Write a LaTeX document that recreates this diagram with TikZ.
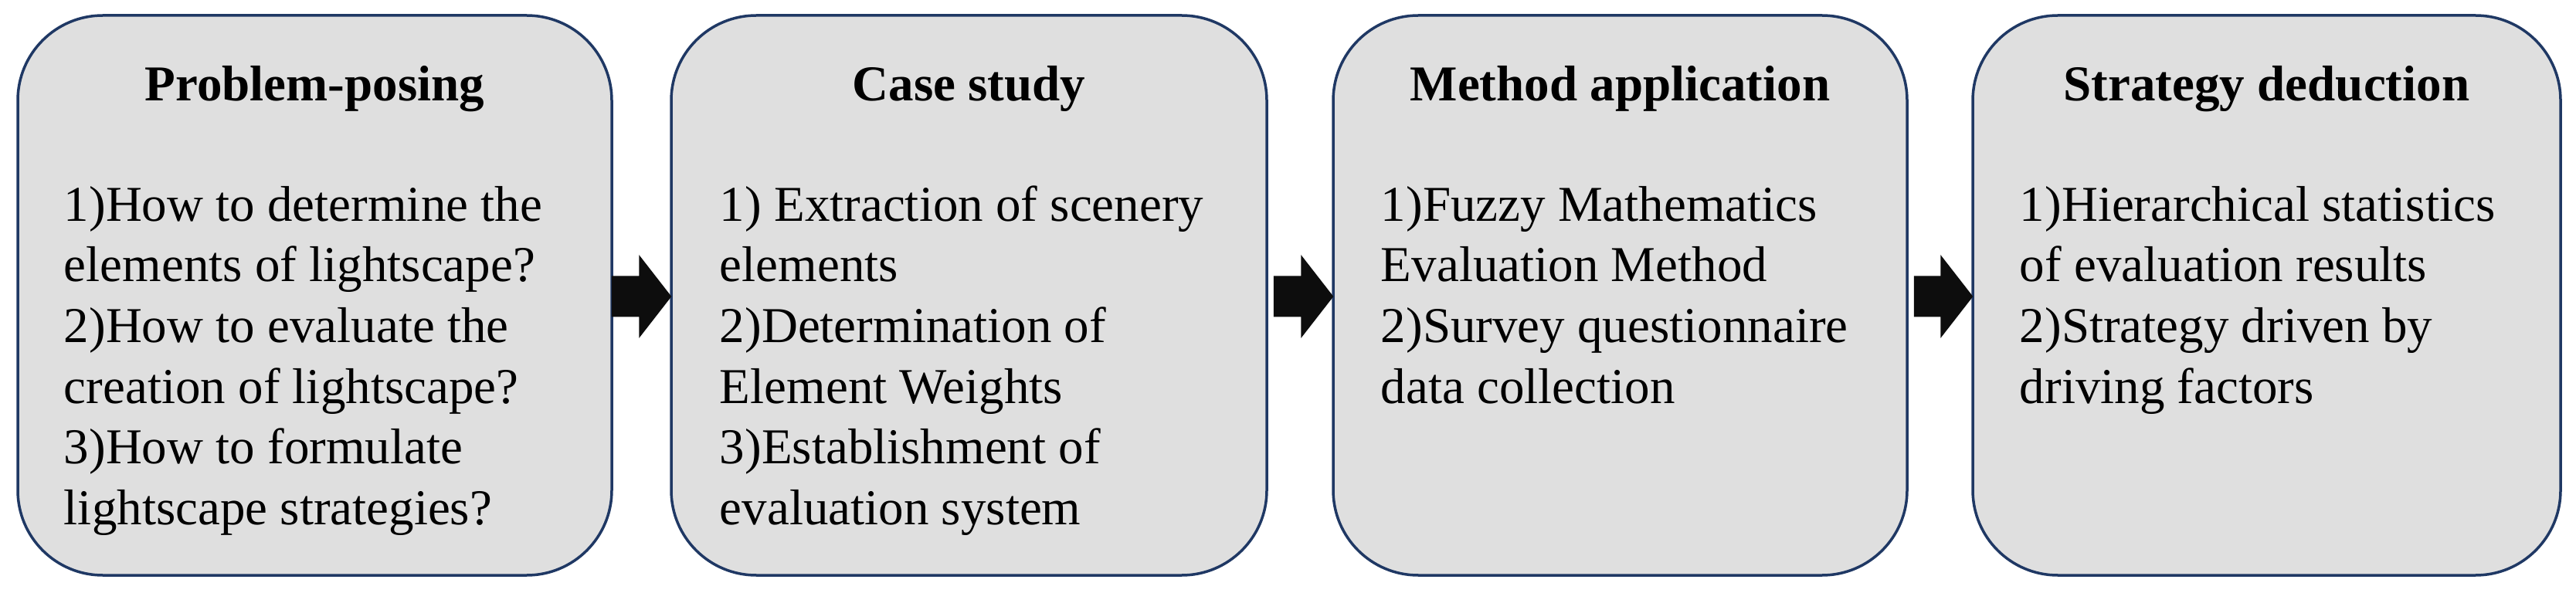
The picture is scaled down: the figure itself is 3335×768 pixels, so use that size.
\documentclass[tikz,border=0pt]{standalone}
\usepackage{fontspec}
\setmainfont{Liberation Serif}
\usetikzlibrary{calc}
\definecolor{boxfill}{HTML}{DFDFDF}
\definecolor{boxline}{HTML}{1F3864}
\definecolor{arrowcol}{HTML}{0D0D0D}
\tikzset{
  stagebox/.style={draw=boxline, fill=boxfill, line width=1.05pt, rounded corners=33pt,
    minimum height=217.5pt, inner sep=0pt, shape=rectangle},
  stagetitle/.style={anchor=base, inner sep=0pt, font=\fontsize{19.5}{23.6}\selectfont\bfseries},
  stagebody/.style={anchor=base west, inner sep=0pt, font=\fontsize{19.5}{23.6}\selectfont},
  arrowfill/.style={fill=arrowcol}
}
\newcommand\lineset[1]{\vtop{\baselineskip=23.6pt #1}}
\newcommand\flowarrow[3]{%
  \fill[arrowfill] ($(#1.east)+(#3,-25)$) -- ($(#2.west)+(-40,-25)$) -- ($(#2.west)+(-40,-52.5)$)
    -- ($(#2.west)+(2,1.5)$) -- ($(#2.west)+(-40,55.5)$) -- ($(#2.west)+(-40,28)$)
    -- ($(#1.east)+(#3,28)$) -- cycle;}
\begin{document}
\begin{tikzpicture}[x=0.3pt,y=-0.3pt]
\useasboundingbox (0,0) rectangle (3335,768);
\node[stagebox, minimum width=230.7pt] (b1) at (407.5,382.5) {};
\node[stagebox, minimum width=231.3pt] (b2) at (1254.5,382.5) {};
\node[stagebox, minimum width=222.9pt] (b3) at (2097.5,382.5) {};
\node[stagebox, minimum width=228.3pt] (b4) at (2934.5,382.5) {};

\node[stagetitle] (t1) at ($(b1.north)+(0,112)$) {Problem-posing};
\node[stagetitle] (t2) at ($(b2.north)+(0,112)$) {Case study};
\node[stagetitle] (t3) at ($(b3.north)+(0,112)$) {Method application};
\node[stagetitle] (t4) at ($(b4.north)+(0,112)$) {Strategy deduction};

\node[stagebody] (x1) at ($(b1.north west)+(61,268)$) {\lineset{%
  \hbox{1)How to determine the}\hbox{elements of lightscape?}\hbox{2)How to evaluate the}%
  \hbox{creation of lightscape?}\hbox{3)How to formulate}\hbox{lightscape strategies?}}};
\node[stagebody] (x2) at ($(b2.north west)+(64,268)$) {\lineset{%
  \hbox{1) Extraction of scenery}\hbox{elements}\hbox{2)Determination of}%
  \hbox{Element Weights}\hbox{3)Establishment of}\hbox{evaluation system}}};
\node[stagebody] (x3) at ($(b3.north west)+(63,268)$) {\lineset{%
  \hbox{1)Fuzzy Mathematics}\hbox{Evaluation Method}\hbox{2)Survey questionnaire}%
  \hbox{data collection}}};
\node[stagebody] (x4) at ($(b4.north west)+(62,268)$) {\lineset{%
  \hbox{1)Hierarchical statistics}\hbox{of evaluation results}\hbox{2)Strategy driven by}%
  \hbox{driving factors}}};

\flowarrow{b1}{b2}{-2}
\flowarrow{b2}{b3}{7}
\flowarrow{b3}{b4}{7}
\end{tikzpicture}
\end{document}
